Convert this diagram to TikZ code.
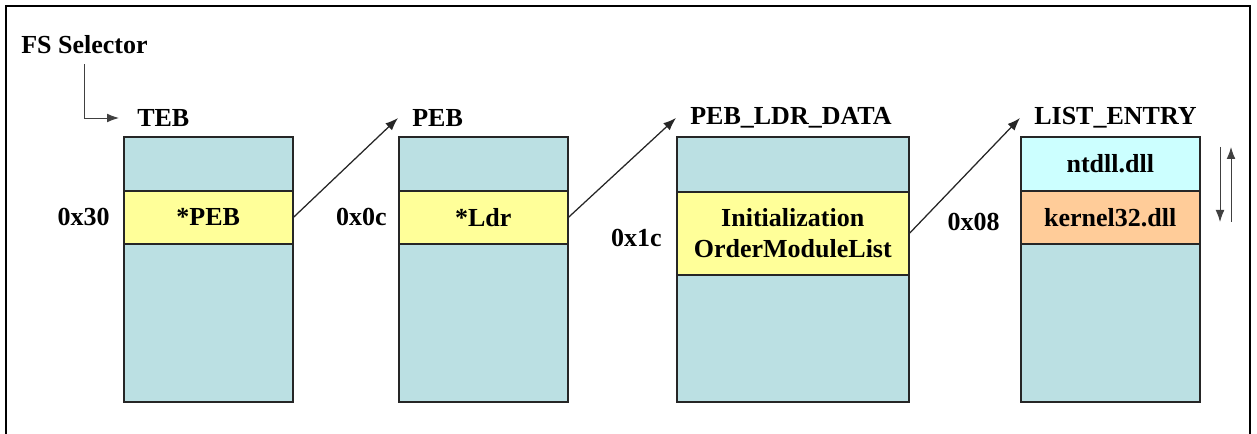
\documentclass[tikz,border=0pt]{standalone}
\usepackage{fontspec}
\setmainfont{Liberation Serif}
\usetikzlibrary{arrows.meta,calc,positioning}

\definecolor{structblue}{RGB}{187,224,227}
\definecolor{fieldyellow}{RGB}{255,255,153}
\definecolor{entrycyan}{RGB}{204,255,255}
\definecolor{entryorange}{RGB}{255,204,153}

\tikzset{
  tag/.style={font=\bfseries\fontsize{18.5}{22.5}\selectfont, inner xsep=3.5mm, inner ysep=0pt},
  boxdim/.style 2 args={minimum width=#1*0.25mm, minimum height=#2*0.25mm},
  structbox/.style={draw=black!85, line width=1.1pt, fill=structblue, anchor=north west, inner sep=0pt},
  fieldbox/.style={structbox, fill=fieldyellow, align=center,
                   font=\bfseries\fontsize{18.5}{22.5}\selectfont},
  ptr/.style={-{Latex[length=3.2mm,width=2.4mm]}, line width=0.9pt, black!85},
  thinptr/.style={-{Latex[length=3mm,width=2.2mm]}, line width=0.7pt, black!75}
}

\begin{document}
\begin{tikzpicture}[x=0.25mm,y=-0.25mm]
  \useasboundingbox (0,0) rectangle (1257,434);
  \draw[line width=1.4pt] (6,434) -- (6,6) -- (1250,6) -- (1250,434);

  % TEB
  \node[structbox, boxdim={169}{265}] (teb) at (123,136) {};
  \node[fieldbox, boxdim={169}{53}] (tebfield) at (123,190) {*PEB};
  \node[tag, anchor=west] (tebname) at (123,118) {TEB};
  \node[tag, left=3.25mm of tebfield, inner xsep=0pt] (off30) {0x30};

  % PEB
  \node[structbox, boxdim={169}{265}] (peb) at (398,136) {};
  \node[fieldbox, boxdim={169}{53}] (pebfield) at (398,190) {*Ldr};
  \node[tag, anchor=west] (pebname) at (398,118) {PEB};
  \node[tag, left=2.75mm of pebfield, inner xsep=0pt] (off0c) {0x0c};

  % PEB_LDR_DATA
  \node[structbox, boxdim={232}{265}] (ldr) at (676,136) {};
  \node[fieldbox, boxdim={232}{83}] (ldrfield) at (676,191) {Initialization\\OrderModuleList};
  \node[tag, anchor=west] (ldrname) at (676,118) {PEB\_LDR\_DATA};
  \node[tag, left=3.5mm of ldrfield, inner xsep=0pt, yshift=-1.1mm] (off1c) {0x1c};

  % LIST_ENTRY
  \node[structbox, boxdim={179}{265}] (entry) at (1020,136) {};
  \node[fieldbox, fill=entrycyan, boxdim={179}{54}] (ntdll) at (1020,136) {ntdll.dll};
  \node[fieldbox, fill=entryorange, boxdim={179}{53}] (kernel) at (1020,190) {kernel32.dll};
  \node[tag, anchor=west] (entryname) at (1020,118) {LIST\_ENTRY};
  \node[tag, left=5mm of kernel, inner xsep=0pt, yshift=-1.1mm] (off08) {0x08};

  \node[tag, anchor=west, inner xsep=0pt] (fssel) at (21,45) {FS Selector};

  % pointers
  \draw[thinptr, shorten <=2.5mm, shorten >=1mm] (fssel.south) |- (tebname.west);
  \draw[ptr] (tebfield.east) -- (pebname.west);
  \draw[ptr] (pebfield.east) -- (ldrname.west);
  \draw[ptr] (ldrfield.east) -- (entryname.west);

  % list links
  \coordinate (flinktop) at (1220,147);
  \coordinate (flinkend) at (1220,222);
  \coordinate (blinktop) at (1231,147);
  \coordinate (blinkend) at (1231,222);
  \draw[thinptr] (flinktop) -- (flinkend);
  \draw[thinptr] (blinkend) -- (blinktop);
\end{tikzpicture}
\end{document}
